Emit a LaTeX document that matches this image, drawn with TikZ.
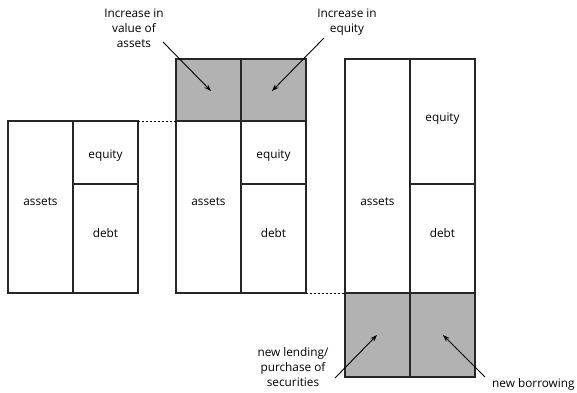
\documentclass[tikz,border=0pt]{standalone}
\usepackage{fontspec}
\setmainfont{Open Sans}
\usetikzlibrary{arrows.meta}
\tikzset{
  cell/.style={draw=black!85, line width=1.2pt, inner sep=0pt, outer sep=0pt, minimum width=65pt},
  shaded/.style={cell, fill=black!30},
  lbl/.style={inner sep=0pt, anchor=base, font=\fontsize{11.8}{15}\selectfont},
  callout/.style={inner sep=0pt, align=center, anchor=base, font=\fontsize{11.8}{15}\selectfont},
  pointer/.style={line width=0.9pt, -{Stealth[length=7pt,width=5pt]}},
  link/.style={line width=1pt, dash pattern=on 2pt off 2pt}
}
\begin{document}
\begin{tikzpicture}[x=1pt,y=-1pt]
\useasboundingbox (0,0) rectangle (577,392);
% box 1
\node[cell, minimum height=172pt] (A1) at (40.5,207) {};
\node[cell, minimum height=63pt] (E1) at (105.5,152.5) {};
\node[cell, minimum height=109pt] (D1) at (105.5,238.5) {};
% box 2
\node[shaded, minimum height=62pt] (G2a) at (208.5,90) {};
\node[shaded, minimum height=62pt] (G2b) at (273.5,90) {};
\node[cell, minimum height=172pt] (A2) at (208.5,207) {};
\node[cell, minimum height=63pt] (E2) at (273.5,152.5) {};
\node[cell, minimum height=109pt] (D2) at (273.5,238.5) {};
% box 3
\node[cell, minimum height=234pt] (A3) at (377.5,176) {};
\node[cell, minimum height=125pt] (E3) at (442.5,121.5) {};
\node[cell, minimum height=109pt] (D3) at (442.5,238.5) {};
\node[shaded, minimum height=84pt] (G3a) at (377.5,335) {};
\node[shaded, minimum height=84pt] (G3b) at (442.5,335) {};
% cell labels
\node[lbl] (tA1) at (40.5,205) {assets};
\node[lbl] (tE1) at (105.5,158) {equity};
\node[lbl] (tD1) at (105.5,237) {debt};
\node[lbl] (tA2) at (208.5,205) {assets};
\node[lbl] (tE2) at (273.5,158) {equity};
\node[lbl] (tD2) at (273.5,237) {debt};
\node[lbl] (tA3) at (377.5,205) {assets};
\node[lbl] (tE3) at (442.5,121) {equity};
\node[lbl] (tD3) at (442.5,237) {debt};
% dotted links
\draw[link] (E1.north east) -- (A2.north west);
\draw[link] (D2.south east) -- (G3a.north west);
% callouts
\node[callout] (cVA) at (134,47) {Increase in\\value of\\assets};
\node[callout] (cEQ) at (347,32) {Increase in\\equity};
\node[callout] (cNL) at (293,386) {new lending/\\purchase of\\securities};
\node[lbl, anchor=base west] (cNB) at (492,387) {new borrowing};
\coordinate (sVA) at (163,42);
\coordinate (eVA) at (211,91);
\coordinate (sEQ) at (324,38);
\coordinate (eEQ) at (272,91);
\coordinate (sNL) at (335,378);
\coordinate (eNL) at (377,335);
\coordinate (sNB) at (485,377);
\coordinate (eNB) at (443,335);
\draw[pointer] (sVA) -- (eVA);
\draw[pointer] (sEQ) -- (eEQ);
\draw[pointer] (sNL) -- (eNL);
\draw[pointer] (sNB) -- (eNB);
\end{tikzpicture}
\end{document}
